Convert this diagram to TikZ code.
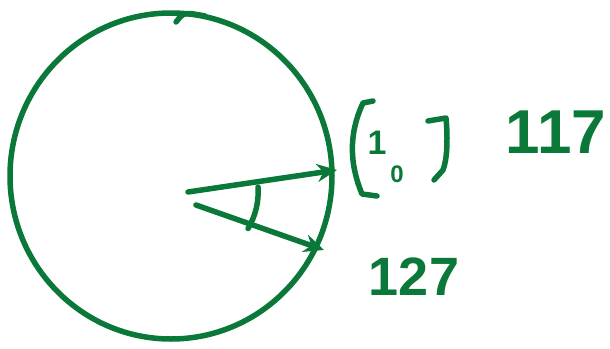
\documentclass[tikz,border=0pt]{standalone}
\usepackage{amsmath,amssymb}
\usepackage{fontspec}
\setsansfont{Liberation Sans}
\usetikzlibrary{arrows.meta,positioning}
\definecolor{InkGreen}{HTML}{0A7838}

\begin{document}
\begin{tikzpicture}[x=1pt,y=-1pt,
    ink/.style={draw=InkGreen,line width=5.5pt,line cap=round,line join=round},
    vec/.style={ink,-{Stealth[length=20pt,width=18pt]}},
    lbl/.style={text=InkGreen,inner sep=0pt,font=\sffamily\bfseries\fontsize{62}{62}\selectfont},
    entry/.style={lbl,font=\sffamily\bfseries\fontsize{34}{34}\selectfont}
  ]
    \useasboundingbox (0,0) rectangle (610,348);
    % unit circle
    \draw[ink] (171,176) ellipse [x radius=161, y radius=163];
    \draw[ink] (176,22) .. controls (184,12) .. (205,16);
    % the two vectors
    \coordinate (origin) at (188,192);
    \coordinate (start) at (196,205);
    \coordinate (tipA) at (337,170);
    \coordinate (tipB) at (324,250);
    \draw[vec] (origin) -- (tipA);
    \draw[vec] (start) -- (tipB);
    % angle between them
    \draw[ink] (258,187) arc[start angle=-4,end angle=31,radius=71];
    % column vector
    \node[entry] (one) at (377,143) {1};
    \node[entry,font=\sffamily\bfseries\fontsize{24}{24}\selectfont] (zero) at (397,174) {0};
    \draw[ink] (373,101) -- (363,103) .. controls (348,135) and (350,165) .. (362,194) -- (377,196);
    \draw[ink] (428,121) -- (446,118) .. controls (448,140) and (447,160) .. (443,170) -- (434,180);
    % angles
    \node[lbl] (degA) at (556,132) {117};
    \node[lbl,font=\sffamily\bfseries\fontsize{54}{54}\selectfont] (degB) at (414,277) {127};
  \end{tikzpicture}
\end{document}
